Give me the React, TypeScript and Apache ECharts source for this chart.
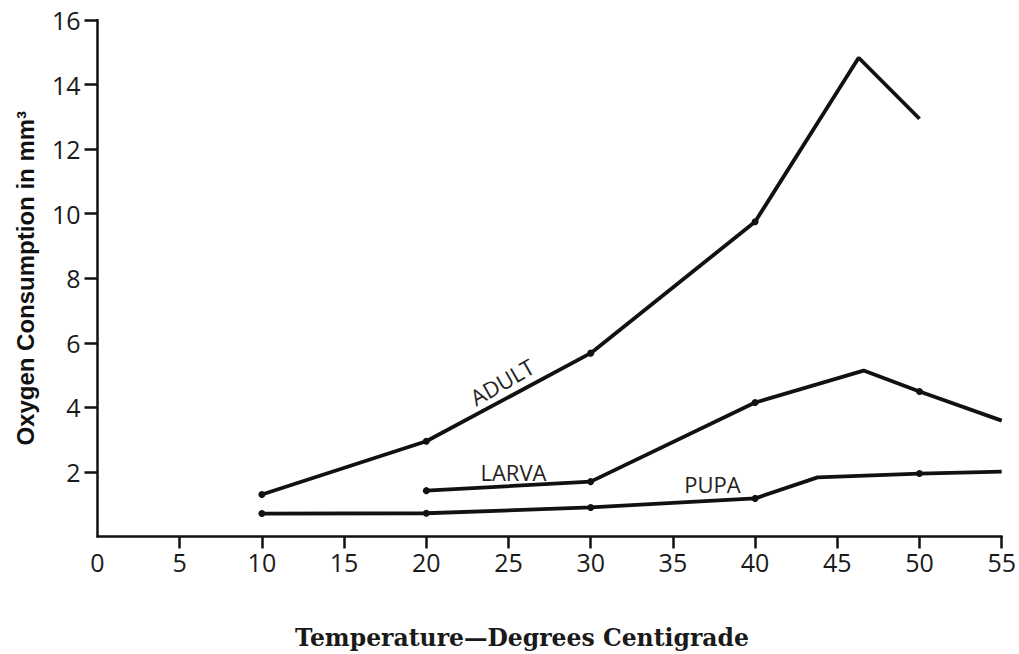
import React, { useEffect, useRef } from "react";
import * as echarts from "echarts";

// Tick values
const xTickValues = [0, 5, 10, 15, 20, 25, 30, 35, 40, 45, 50, 55];
const yTickValues = [2, 4, 6, 8, 10, 12, 14, 16];

// Series data (temperature °C, oxygen consumption mm³); measured = drawn dot
const adultTemp = [10, 20, 30, 40, 46.3, 50];
const adultO2 = [1.3, 2.95, 5.68, 9.75, 14.83, 12.94];
const adultMeasured = [true, true, true, true, false, false];

const larvaTemp = [20, 30, 40, 46.6, 50, 55];
const larvaO2 = [1.42, 1.7, 4.15, 5.14, 4.49, 3.59];
const larvaMeasured = [true, true, true, false, true, false];

const pupaTemp = [10, 20, 30, 40, 43.8, 50, 55];
const pupaO2 = [0.71, 0.72, 0.9, 1.18, 1.83, 1.95, 2.01];
const pupaMeasured = [true, true, true, true, false, true, false];

// Curve labels (anchored in data coordinates)
const labelNames = ["ADULT", "LARVA", "PUPA"];
const labelTemp = [24.6, 25.3, 37.4];
const labelO2 = [4.8, 2.0, 1.63];
const labelAngle = [30, 0, 0];

const yTitle = "Oxygen Consumption in mm³";
const xTitle = "Temperature—Degrees Centigrade";

const INK = "#111111";

function buildData(xs: number[], ys: number[], measured: boolean[]) {
  return xs.map((x, i) => ({
    value: [x, ys[i]],
    symbol: measured[i] ? "circle" : "none",
  }));
}

function lineSeries(name: string, xs: number[], ys: number[], m: boolean[]) {
  return {
    name,
    type: "line",
    data: buildData(xs, ys, m),
    symbolSize: 7,
    showSymbol: true,
    lineStyle: { color: INK, width: 3.8 },
    itemStyle: { color: INK },
    emphasis: { disabled: true },
    silent: true,
  };
}

export default function App() {
  const ref = useRef<HTMLDivElement>(null);

  useEffect(() => {
    if (!ref.current) return;
    const chart = echarts.init(ref.current, null, { renderer: "svg" });
    const tickFont = {
      fontFamily: "Open Sans",
      fontSize: 25,
      fontWeight: 500,
      color: "#1a1a1a",
    };
    chart.setOption({
      animation: false,
      backgroundColor: "#ffffff",
      grid: {
        left: 97.5,
        right: 17.3,
        top: 20,
        bottom: 117.5,
        containLabel: false,
        outerBoundsMode: "none",
      },
      xAxis: {
        type: "value",
        min: 0,
        max: 55,
        interval: 5,
        splitLine: { show: false },
        axisLine: { show: true, lineStyle: { color: INK, width: 2.5 } },
        axisTick: {
          show: true,
          inside: false,
          length: 12,
          lineStyle: { color: INK, width: 2.5 },
          customValues: xTickValues.filter((v) => v !== 0),
        },
        axisLabel: {
          ...tickFont,
          margin: 13,
          customValues: xTickValues,
        },
      },
      yAxis: {
        type: "value",
        min: 0,
        max: 16,
        interval: 2,
        name: yTitle,
        nameLocation: "middle",
        nameGap: 60,
        nameTextStyle: {
          fontFamily: "Liberation Sans",
          fontWeight: "bold",
          fontSize: 24,
          color: INK,
        },
        splitLine: { show: false },
        axisLine: { show: true, lineStyle: { color: INK, width: 2.5 } },
        axisTick: {
          show: true,
          inside: false,
          length: 13,
          lineStyle: { color: INK, width: 2.5 },
          customValues: yTickValues,
        },
        axisLabel: {
          ...tickFont,
          margin: 17,
          customValues: yTickValues,
        },
      },
      series: [
        lineSeries("ADULT", adultTemp, adultO2, adultMeasured),
        lineSeries("LARVA", larvaTemp, larvaO2, larvaMeasured),
        lineSeries("PUPA", pupaTemp, pupaO2, pupaMeasured),
      ],
    });

    const labels = labelNames.map((name, i) => {
      const p = chart.convertToPixel({ gridIndex: 0 }, [labelTemp[i], labelO2[i]]) as number[];
      return {
        type: "text",
        x: p[0],
        y: p[1],
        rotation: (labelAngle[i] * Math.PI) / 180,
        silent: true,
        style: {
          text: name,
          fontFamily: "Open Sans",
          fontSize: 22,
          fill: "#222222",
          align: "center",
          verticalAlign: "middle",
        },
      };
    });

    chart.setOption({
      graphic: [
        ...labels,
        {
          type: "text",
          x: 522,
          y: 638,
          silent: true,
          style: {
            text: xTitle,
            fontFamily: "DejaVu Serif",
            fontWeight: "bold",
            fontSize: 23.5,
            fill: "#1a1a1a",
            align: "center",
            verticalAlign: "middle",
          },
        },
      ],
    });

    return () => chart.dispose();
  }, []);

  return (
    <div
      ref={ref}
      style={{ position: "fixed", left: 0, top: 0, width: 1019, height: 654, background: "#fff" }}
    />
  );
}
